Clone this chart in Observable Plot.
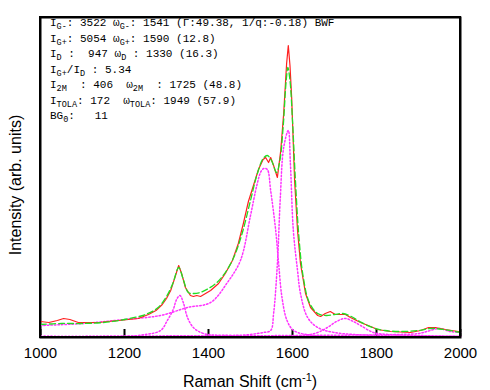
<!DOCTYPE html>
<html><head><meta charset="utf-8">
<script src="https://cdn.jsdelivr.net/npm/d3@7"></script>
<script src="https://cdn.jsdelivr.net/npm/@observablehq/plot@0.6"></script>
<style>
body{margin:0;background:#fff}
#wrap{position:relative;width:490px;height:390px}
#ann{position:absolute;left:50px;top:16px;font-family:"Liberation Mono",monospace;font-size:11px;line-height:15.5px;white-space:pre;color:#000}
#ann sub{font-size:8.5px;vertical-align:-3px;line-height:0}
.lab{position:absolute;font-family:"Liberation Sans",Arial,sans-serif;font-size:16px;color:#000;white-space:nowrap;line-height:1}
#ylab{left:16px;top:185px;transform:translate(-50%,-50%) rotate(-90deg)}
#xlab{left:250px;top:382px;transform:translate(-50%,-50%)}
#xlab sup{font-size:11px;vertical-align:6px;line-height:0}
#box{position:absolute;left:39px;top:16px;width:422px;height:322px;box-sizing:border-box;border:2px solid #000;pointer-events:none}
</style></head><body>
<div id="wrap"><div id="box"></div><div id="ann"></div><div id="ylab" class="lab"></div><div id="xlab" class="lab"></div></div>
<script>
// Raman shift (cm-1), intensity (arb. units)
const measured = [[1000,16],[1020,15],[1040,17],[1055,19],[1070,18],[1090,15],[1110,15],[1140,15],[1160,16],[1186,17],[1210,18],[1233,19],[1257,23],[1275,27],[1290,33],[1300,39],[1310,47],[1320,60],[1329,72],[1336,64],[1345,50],[1357,42],[1364,41],[1372,42],[1381,41],[1393,44],[1405,47],[1424,54],[1440,64],[1457,77],[1471,94],[1483,114],[1495,136],[1507,152],[1519,168],[1530,178],[1536,180],[1543,175],[1548,180],[1555,172],[1564,160],[1572,187],[1579,224],[1586,274],[1590,292],[1594,272],[1598,240],[1605,157],[1612,107],[1619,74],[1631,44],[1643,30],[1660,22],[1667,21],[1678,24],[1690,26],[1702,23],[1726,23],[1738,20],[1762,15],[1786,11],[1802,8],[1833,6],[1881,5],[1905,7],[1924,10],[1940,10],[1964,8],[1995,6],[2000,6]];
const fitTotal = [[1000,13],[1050,14],[1100,14],[1150,15],[1200,18],[1250,23],[1280,30],[1300,41],[1315,54],[1329,70],[1340,58],[1352,45],[1365,44],[1380,45],[1400,49],[1420,55],[1440,65],[1460,80],[1480,104],[1500,137],[1515,162],[1530,179],[1540,182],[1550,177],[1562,165],[1570,177],[1578,212],[1585,257],[1589,270],[1594,257],[1600,217],[1607,157],[1615,102],[1625,62],[1640,35],[1660,24],[1680,22],[1700,23],[1720,24],[1740,21],[1760,16],[1790,10],[1820,7],[1860,6],[1900,7],[1930,9],[1960,8],[2000,5]];
const bwfG = [[1000,12],[1100,14],[1200,18],[1286,22],[1350,30],[1405,35],[1445,55],[1476,77],[1500,122],[1515,152],[1525,166],[1532,169],[1540,168],[1548,147],[1560,107],[1567,74],[1575,40],[1587,17],[1603,7],[1650,2],[1750,1],[2000,1]];
const lorGplus = [[1000,1],[1450,2],[1500,3],[1530,5],[1548,7],[1555,24],[1564,74],[1571,140],[1579,190],[1590,207],[1595,174],[1602,107],[1612,67],[1619,44],[1636,20],[1660,10],[1700,5],[1800,2],[2000,1]];
const lorD = [[1000,1],[1200,1],[1250,3],[1286,7],[1302,17],[1316,28],[1324,38],[1332,42],[1340,35],[1350,20],[1364,10],[1388,4],[1450,2],[1600,1],[2000,1]];
const lor2M = [[1000,1],[1620,2],[1660,5],[1683,10],[1705,16],[1725,19],[1745,16],[1762,12],[1793,5],[1830,3],[1900,2],[2000,1]];
const lorTOLA = [[1000,1],[1850,3],[1900,4],[1920,6],[1949,9],[1975,6],[2000,5]];
const xTicks = [1000,1200,1400,1600,1800,2000];
const xLabelHTML = "Raman Shift (cm<sup>-1</sup>)";
const yLabel = "Intensity (arb. units)";
const annotationLines = [
  "I<sub>G-</sub>: 3522 ω<sub>G-</sub>: 1541 (Γ:49.38, 1/q:-0.18) BWF",
  "I<sub>G+</sub>: 5054 ω<sub>G+</sub>: 1590 (12.8)",
  "I<sub>D</sub> :  947 ω<sub>D</sub> : 1330 (16.3)",
  "I<sub>G+</sub>/I<sub>D</sub> : 5.34",
  "I<sub>2M</sub>  : 406  ω<sub>2M</sub>  : 1725 (48.8)",
  "I<sub>TOLA</sub>: 172  ω<sub>TOLA</sub>: 1949 (57.9)",
  "BG<sub>0</sub>:   11"
];

const X = d => d[0], Y = d => d[1];
const dotted = {x: X, y: Y, stroke: "#ff33ff", strokeWidth: 1.5, strokeDasharray: "1.5,2", curve: "catmull-rom"};
const components = [bwfG, lorGplus, lorD, lor2M, lorTOLA];

const svg = Plot.plot({
  width: 490, height: 390,
  marginLeft: 40, marginRight: 30, marginTop: 17, marginBottom: 53,
  x: {domain: [1000, 2000]},
  y: {domain: [0, 320], axis: null},
  marks: [
    Plot.frame({stroke: "black", strokeWidth: 2}),
    Plot.tickX(xTicks, {x: d => d, stroke: "black", strokeWidth: 2, insetTop: 312}),
    Plot.axisX({ticks: xTicks, tickSize: 0, tickPadding: 10, tickFormat: d => String(d), fontSize: 15, fontFamily: "Liberation Sans", label: null}),
    ...components.map(c => Plot.line(c, dotted)),
    Plot.line(measured, {x: X, y: Y, stroke: "#ff2020", strokeWidth: 1.2}),
    Plot.line(fitTotal, {x: X, y: Y, stroke: "#22dd22", strokeWidth: 1.3, strokeDasharray: "6,3", curve: "catmull-rom"})
  ]
});

const wrap = document.getElementById("wrap");
wrap.insertBefore(svg, wrap.firstChild);
document.getElementById("ann").innerHTML = annotationLines.join("\n");
document.getElementById("ylab").textContent = yLabel;
document.getElementById("xlab").innerHTML = xLabelHTML;
</script>
</body></html>
